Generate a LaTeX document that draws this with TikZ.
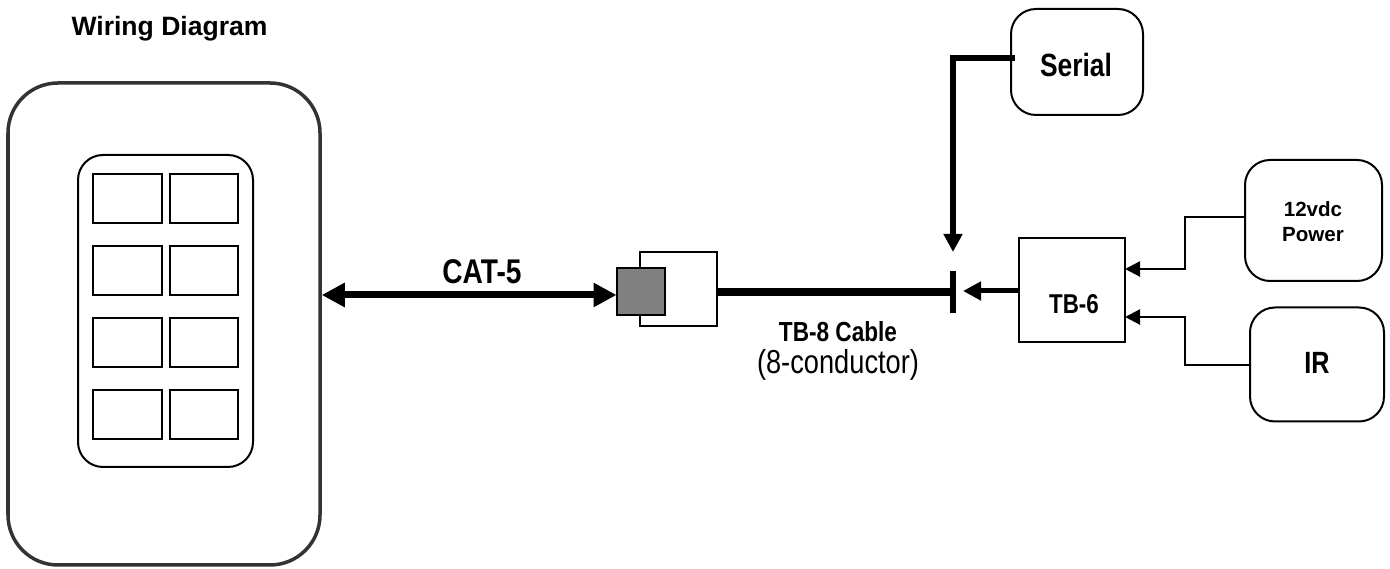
\documentclass[tikz,border=0pt]{standalone}
\usepackage{fontspec}
\usepackage{tikz}
\usetikzlibrary{arrows.meta}
\setmainfont{Liberation Sans}
\newfontfamily\narrowfont[FakeStretch=0.82]{Liberation Sans}
\tikzset{
	roundbox/.style={shape=rectangle,draw=black,rounded corners=0.5cm,line width=0.04cm,inner sep=0pt},
	plainbox/.style={shape=rectangle,draw=black,line width=0.04cm,inner sep=0pt},
	keybox/.style={plainbox,minimum width=1.37cm,minimum height=0.98cm},
	thickwire/.style={line width=0.12cm},
	thinwire/.style={line width=0.045cm},
	bigtip/.style={-{Triangle[length=0.36cm,width=0.36cm]}},
	smalltip/.style={-{Triangle[length=0.3cm,width=0.3cm]}},
}
\begin{document}
\begin{tikzpicture}
	\useasboundingbox (0, 0) rectangle (27.8, 11.38);

	\node[font=\bfseries\fontsize{15.1}{18}\selectfont] (title) at (3.39, 10.8) {Wiring Diagram};

	\node[roundbox,draw=black!80,rounded corners=1cm,line width=0.07cm,minimum width=6.24cm,minimum height=9.64cm] (plate) at (3.28, 4.9) {};
	\node[roundbox,minimum width=3.5cm,minimum height=6.24cm] (panel) at (3.31, 5.16) {};

	\node[keybox] (k1) at (2.55, 7.41) {};
	\node[keybox] (k2) at (4.08, 7.41) {};
	\node[keybox] (k3) at (2.55, 5.97) {};
	\node[keybox] (k4) at (4.08, 5.97) {};
	\node[keybox] (k5) at (2.55, 4.53) {};
	\node[keybox] (k6) at (4.08, 4.53) {};
	\node[keybox] (k7) at (2.55, 3.09) {};
	\node[keybox] (k8) at (4.08, 3.09) {};

	\node[plainbox,fill=white,minimum width=1.54cm,minimum height=1.48cm] (jack) at (13.57, 5.59) {};
	\node[plainbox,fill=black!50,minimum width=0.96cm,minimum height=0.94cm] (plug) at (12.82, 5.55) {};
	\node[fill=black,inner sep=0pt,minimum width=0.12cm,minimum height=0.84cm] (bar) at (19.06, 5.54) {};

	\node[roundbox,minimum width=2.64cm,minimum height=2.12cm] (serial) at (21.54, 10.14) {};
	\node[plainbox,minimum width=2.12cm,minimum height=2.08cm] (tb) at (21.44, 5.58) {};
	\node[roundbox,minimum width=2.74cm,minimum height=2.42cm] (power) at (26.27, 6.97) {};
	\node[roundbox,minimum width=2.68cm,minimum height=2.28cm] (ir) at (26.34, 4.09) {};

	\node[font=\narrowfont\bfseries\fontsize{19.5}{22}\selectfont] (cat) at (9.64, 5.94) {CAT-5};
	\node[font=\narrowfont\bfseries\fontsize{15.7}{18}\selectfont] (cable) at (16.76, 4.74) {TB-8 Cable};
	\node[font=\narrowfont\fontsize{18.9}{22}\selectfont] (cond) at (16.76, 4.08) {(8-conductor)};
	\node[font=\narrowfont\bfseries\fontsize{18.3}{22}\selectfont] (serialtext) at (21.52, 10.08) {Serial};
	\node[font=\narrowfont\bfseries\fontsize{15.5}{18}\selectfont] (tbtext) at (21.48, 5.3) {TB-6};
	\node[font=\bfseries\fontsize{11.7}{14.2}\selectfont,align=center] (powertext) at (26.26, 6.95) {12vdc\\Power};
	\node[font=\narrowfont\bfseries\fontsize{17.5}{20}\selectfont] (irtext) at (26.34, 4.12) {IR};

	\coordinate (plugtip) at (12.33, 5.48);
	\coordinate (serialend) at (20.3, 10.22);
	\coordinate (serialtip) at (19.06, 6.34);
	\coordinate (bartip) at (19.26, 5.56);
	\coordinate (tbup) at (22.5, 6);
	\coordinate (tbdown) at (22.5, 5.04);
	\coordinate (bendup) at (23.7, 6);
	\coordinate (benddown) at (23.7, 5.04);
	\coordinate (powerend) at (24.9, 7.04);
	\coordinate (irend) at (25, 4.08);

	\draw[line width=0.14cm,{Triangle[length=0.46cm,width=0.46cm]}-{Triangle[length=0.46cm,width=0.46cm]}] (plugtip -| plate.east) -- (plugtip);
	\draw[line width=0.16cm] (jack.east |- bar) -- (bar);
	\draw[thickwire,bigtip] (serialend) -| (serialtip);
	\draw[line width=0.1cm,bigtip] (tb.west |- bartip) -- (bartip);
	\draw[thinwire,smalltip] (powerend) -| (bendup) -- (tbup);
	\draw[thinwire,smalltip] (irend) -| (benddown) -- (tbdown);
\end{tikzpicture}
\end{document}
